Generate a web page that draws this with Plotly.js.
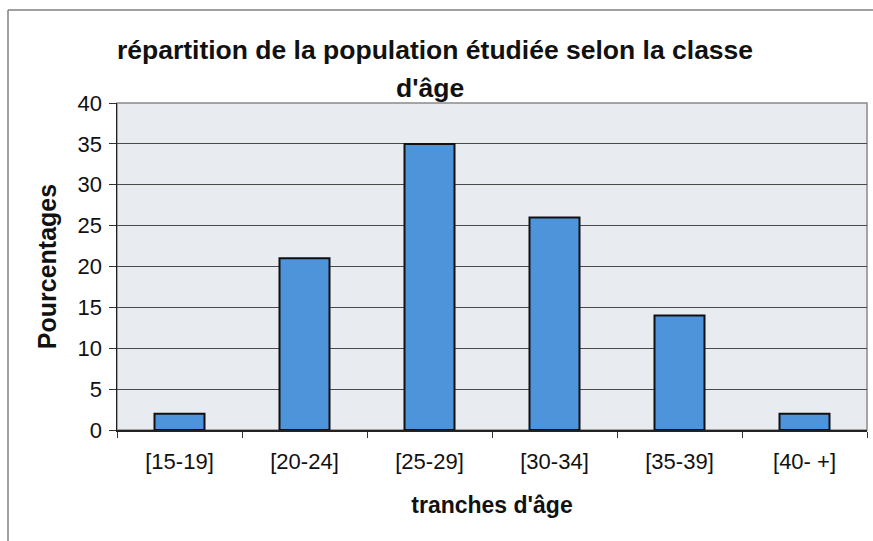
<!DOCTYPE html>
<html>
<head>
<meta charset="utf-8">
<script src="https://cdn.plot.ly/plotly-3.0.1.min.js"></script>
<style>html,body{margin:0;padding:0;background:#fff;}#chart{width:873px;height:541px;}</style>
</head>
<body>
<div id="chart"></div>
<script>
// Data
const categories = ["[15-19]", "[20-24]", "[25-29]", "[30-34]", "[35-39]", "[40- +]"];
const percentages = [2, 21, 35, 26, 14, 2];
const titleLine1 = "répartition de la population étudiée selon la classe";
const titleLine2 = "d'âge";
const xTitle = "tranches d'âge";
const yTitle = "Pourcentages";

// Layout geometry (pixels)
const W = 873, H = 541;
const L = 117, R = 867, T = 103, B = 430;
const px = x => (x - L) / (R - L);
const py = y => (B - y) / (B - T);

const font = "Arial, 'Liberation Sans', sans-serif";

const trace = {
  type: "bar",
  x: categories,
  y: percentages,
  marker: { color: "#4d94db", line: { color: "#111", width: 2 } },
  hoverinfo: "x+y"
};

const layout = {
  width: W, height: H,
  margin: { l: L, r: W - R, t: T, b: H - B, pad: 0 },
  paper_bgcolor: "#ffffff",
  plot_bgcolor: "#e8ebf0",
  showlegend: false,
  bargap: 0.6,
  font: { family: font, color: "#111" },
  title: {
    text: "<b>" + titleLine1 + "</b>",
    font: { family: font, size: 26.5, color: "#111" },
    x: px(435), xref: "paper", xanchor: "center",
    y: 1 - 50 / H, yref: "container", yanchor: "middle"
  },
  annotations: [{
    text: "<b>" + titleLine2 + "</b>",
    xref: "paper", yref: "paper",
    x: px(430), y: py(88), xanchor: "center", yanchor: "middle",
    showarrow: false,
    font: { family: font, size: 26.5, color: "#111" }
  }],
  xaxis: {
    type: "category",
    tickson: "boundaries",
    ticks: "outside", ticklen: 6, tickwidth: 1, tickcolor: "#333",
    showline: true, linecolor: "#222", linewidth: 1.5,
    showgrid: false,
    tickfont: { family: font, size: 22, color: "#111" },
    ticklabelstandoff: 11,
    title: { text: "<b>" + xTitle + "</b>", font: { family: font, size: 23, color: "#111" }, standoff: 24 }
  },
  yaxis: {
    range: [0, 40], dtick: 5, tick0: 0,
    ticks: "outside", ticklen: 7, tickwidth: 1, tickcolor: "#333",
    showline: true, linecolor: "#222", linewidth: 1.5,
    showgrid: true, gridcolor: "#4a4a4a", gridwidth: 1,
    zeroline: false,
    tickfont: { family: font, size: 22, color: "#111" },
    ticklabelstandoff: 2,
    title: { text: "<b>" + yTitle + "</b>", font: { family: font, size: 25, color: "#111" }, standoff: 14 }
  },
  shapes: [
    // plot border (top/right, gray)
    { type: "rect", xref: "paper", yref: "paper", x0: 0, x1: 1, y0: 0, y1: 1,
      line: { color: "#8a8a8a", width: 1.5 }, layer: "below" },
    // outer chart frame (top and left edges)
    { type: "line", xref: "paper", yref: "paper", x0: px(8), x1: px(W + 5), y0: py(10), y1: py(10),
      line: { color: "#808080", width: 1.5 } },
    { type: "line", xref: "paper", yref: "paper", x0: px(8), x1: px(8), y0: py(10), y1: py(H + 5),
      line: { color: "#808080", width: 1.5 } }
  ]
};

Plotly.newPlot("chart", [trace], layout, { displayModeBar: false, staticPlot: true });
</script>
</body>
</html>
